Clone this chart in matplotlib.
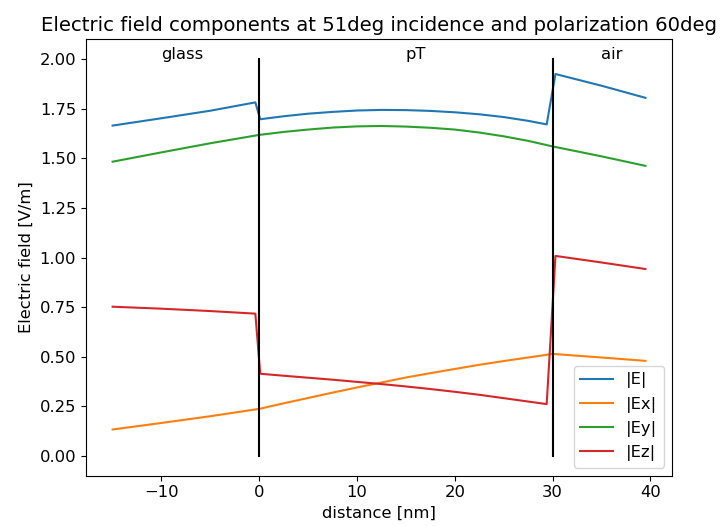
import numpy as np
import matplotlib.pyplot as plt

plt.rcParams['font.size'] = 11.8

# sample positions (nm) in each layer
x_glass = [-15, -10, -5, -0.4]
x_pt = [0.1, 2.5, 5, 7.5, 10, 12.5, 15, 17.5, 20, 22.5, 25, 27.5, 29.4]
x_air = [30.3, 35, 39.5]
x_all = [-15, -10, -5, 0, 2.5, 5, 7.5, 10, 12.5, 15, 17.5, 20, 22.5, 25, 27.5, 30, 35, 39.5]

# |E| per layer
E_glass = [1.665, 1.702, 1.740, 1.782]
E_pt = [1.697, 1.712, 1.725, 1.734, 1.741, 1.744, 1.743, 1.739, 1.732, 1.722, 1.708, 1.689, 1.671]
E_air = [1.925, 1.866, 1.805]

# |Ex| and |Ey| (continuous)
Ex = [0.133, 0.166, 0.200, 0.237, 0.265, 0.292, 0.319, 0.345, 0.370, 0.395, 0.417,
      0.438, 0.459, 0.478, 0.496, 0.514, 0.496, 0.479]
Ey = [1.483, 1.530, 1.576, 1.618, 1.633, 1.645, 1.655, 1.661, 1.663, 1.660, 1.654,
      1.645, 1.630, 1.611, 1.588, 1.560, 1.510, 1.462]

# |Ez| per layer
Ez_glass = [0.752, 0.742, 0.730, 0.717]
Ez_pt = [0.414, 0.404, 0.394, 0.384, 0.373, 0.362, 0.350, 0.337, 0.323, 0.308, 0.291, 0.274, 0.261]
Ez_air = [1.008, 0.975, 0.942]

interfaces = [0, 30]
layer_names = ['glass', 'pT', 'air']
layer_text_x = [-10, 15, 35]

x = np.array(x_glass + x_pt + x_air)
E = np.array(E_glass + E_pt + E_air)
Ez = np.array(Ez_glass + Ez_pt + Ez_air)

fig = plt.figure(figsize=(7.2, 5.26), dpi=100)
ax = fig.add_axes([0.1194, 0.0956, 0.814, 0.8297])
ax.plot(x, E, label='|E|')
ax.plot(x_all, Ex, label='|Ex|')
ax.plot(x_all, Ey, label='|Ey|')
ax.plot(x, Ez, label='|Ez|')

for xi in interfaces:
    ax.plot([xi, xi], [0, 2], 'k')
for name, tx in zip(layer_names, layer_text_x):
    ax.text(tx, 2, name)

ax.set_title('Electric field components at 51deg incidence and polarization 60deg')
ax.set_xlabel('distance [nm]')
ax.set_ylabel('Electric field [V/m]')
ax.legend(loc='lower right')
plt.savefig('out.png')
